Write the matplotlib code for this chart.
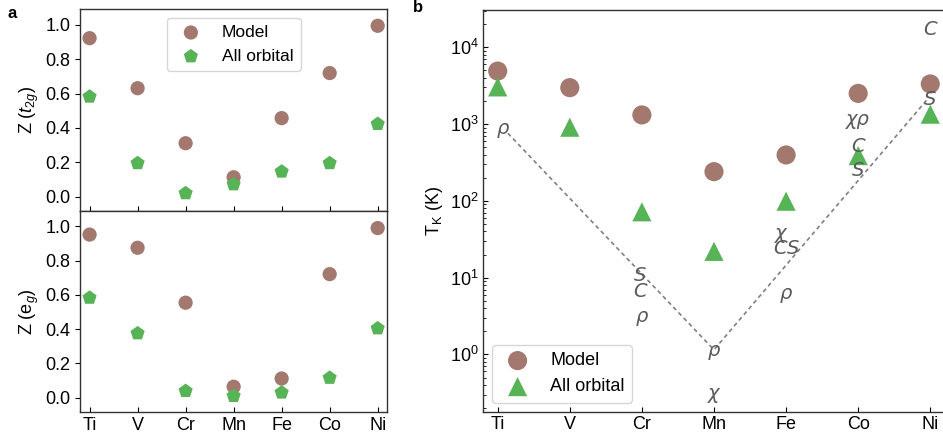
import numpy as np
import matplotlib
matplotlib.use("Agg")
import matplotlib.pyplot as plt

plt.rcParams['font.family'] = ['Liberation Sans', 'DejaVu Sans']
plt.rcParams['mathtext.fontset'] = 'custom'
plt.rcParams['mathtext.rm'] = 'Liberation Sans'
plt.rcParams['mathtext.it'] = 'Liberation Sans:italic'
plt.rcParams['axes.edgecolor'] = '#333333'
plt.rcParams['axes.linewidth'] = 1.0

# data
elements = ['Ti', 'V', 'Cr', 'Mn', 'Fe', 'Co', 'Ni']
z_t2g_model = [0.922, 0.631, 0.311, 0.113, 0.457, 0.719, 0.994]
z_t2g_all = [0.582, 0.195, 0.020, 0.072, 0.146, 0.195, 0.423]
z_eg_model = [0.952, 0.875, 0.554, 0.063, 0.111, 0.721, 0.990]
z_eg_all = [0.583, 0.375, 0.038, 0.009, 0.029, 0.115, 0.404]
tk_model = [4900, 2980, 1315, 240, 396, 2510, 3330]
tk_all = [3050, 910, 72, 22, 99, 388, 1345]

# experimental markers (letters) and guide line
exp_labels = ['ρ', 'S', 'C', 'ρ', 'ρ', 'χ', 'χ', 'C', 'S', 'ρ', 'χρ', 'C', 'S', 'C', 'S']
exp_x = [0.07, 1.98, 1.98, 2.0, 3.0, 3.0, 3.93, 3.92, 4.1, 4.0, 5.0, 5.0, 5.0, 6.0, 6.0]
exp_y = [880, 10.8, 6.6, 3.1, 1.14, 0.31, 38, 24, 24, 6.3, 1130, 508, 247, 17100, 2100]
guide_x = [0.14, 3.0, 5.95]
guide_y = [760, 1.15, 2050]

c_model = '#a3786f'
c_all = '#56b356'
c_letter = '#5a5a5a'

fig = plt.figure(figsize=(9.43, 4.4), dpi=100)
ax1 = fig.add_axes([0.0848, 0.5205, 0.3259, 0.4584])
ax2 = fig.add_axes([0.0848, 0.0643, 0.3259, 0.4562])
ax3 = fig.add_axes([0.5125, 0.0645, 0.4893, 0.9128])

x = np.arange(len(elements))

for ax, ym, ya, lab in [(ax1, z_t2g_model, z_t2g_all, 'Z ($t_{2g}$)'),
                        (ax2, z_eg_model, z_eg_all, 'Z ($\\mathrm{e}_g$)')]:
    ax.scatter(x, ym, s=105, marker='o', color=c_model, edgecolors='none', label='Model')
    ax.scatter(x, ya, s=115, marker='p', color=c_all, edgecolors='none', label='All orbital')
    ax.set_xlim(-0.2, 6.2)
    ax.set_ylim(-0.083, 1.09)
    ax.set_yticks([0.0, 0.2, 0.4, 0.6, 0.8, 1.0])
    ax.set_xticks(x)
    ax.set_xticklabels(elements)
    ax.set_ylabel(lab, fontsize=13, labelpad=3)
    ax.tick_params(axis='x', direction='in', labelsize=13)
    ax.tick_params(axis='y', direction='out', labelsize=13)
ax1.tick_params(axis='x', labelbottom=False)
ax1.legend(loc='upper center', fontsize=12.5, handletextpad=0.8)

# panel b
ax3.scatter(x, tk_model, s=190, marker='o', color=c_model, edgecolors='none', label='Model')
ax3.scatter(x, tk_all, s=190, marker='^', color=c_all, edgecolors='none', label='All orbital')
ax3.plot(guide_x, guide_y, color='gray', lw=1.2, dashes=(2.5, 2))
for lbl, lx, ly in zip(exp_labels, exp_x, exp_y):
    ax3.text(lx, ly, lbl, color=c_letter, fontsize=14, fontstyle='italic',
             family='DejaVu Sans', ha='center', va='center')
ax3.set_yscale('log')
ax3.set_xlim(-0.2, 6.2)
ax3.set_ylim(0.18, 3.06e4)
ax3.set_xticks(x)
ax3.set_xticklabels(elements)
ax3.set_ylabel('T$_\\mathrm{K}$ (K)', fontsize=13, labelpad=3)
ax3.tick_params(axis='x', direction='in', labelsize=13)
ax3.tick_params(axis='y', which='both', direction='in', labelsize=13)
ax3.legend(loc='lower left', fontsize=13, handletextpad=0.8)

fig.text(0.008, 0.970, 'a', fontsize=12, fontweight='bold', va='center')
fig.text(0.4376, 0.982, 'b', fontsize=12, fontweight='bold', va='center')

fig.savefig('out.png', dpi=100)
